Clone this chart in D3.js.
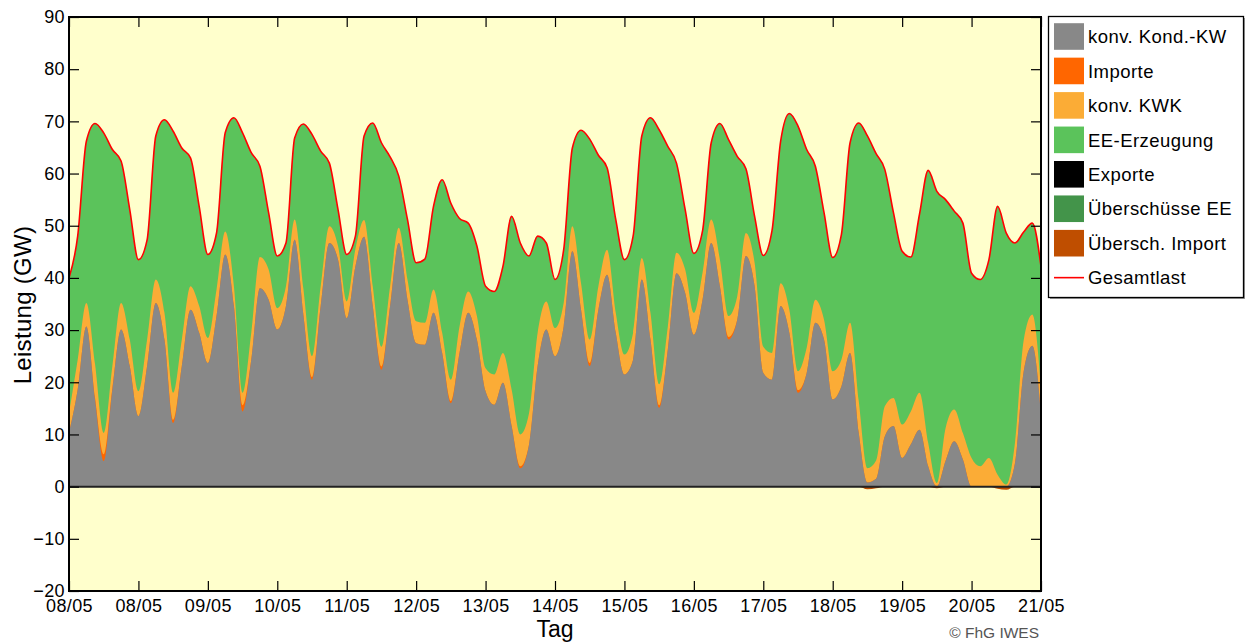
<!DOCTYPE html>
<html>
<head>
<meta charset="utf-8">
<script src="https://cdn.jsdelivr.net/npm/d3@7"></script>
<style>
  body { margin: 0; background: #fff; }
  svg { font-family: "Liberation Sans", Arial, sans-serif; }
</style>
</head>
<body>
<div id="chart"></div>
<script>

// 3-hour steps, 14 days (k = 0..112)
var stepHours = 3;

var dayLabels = ["08/05", "08/05", "09/05", "10/05", "11/05", "12/05", "13/05", "14/05",
                 "15/05", "16/05", "17/05", "18/05", "19/05", "20/05", "21/05"];

var yTicks = [-20, -10, 0, 10, 20, 30, 40, 50, 60, 70, 80, 90];

// Gesamtlast (GW)
var load = [
    40.0, 48.0, 66.2, 69.6, 67.8, 64.6, 62.4, 53.1,
    43.5, 47.3, 67.2, 70.3, 68.1, 64.9, 63.0, 53.7,
    44.5, 48.6, 67.8, 70.7, 67.8, 64.0, 61.4, 52.5,
    44.2, 46.7, 66.8, 69.5, 67.5, 64.3, 62.0, 53.1,
    44.5, 48.0, 67.2, 69.7, 65.9, 63.2, 59.5, 51.2,
    42.9, 43.6, 53.7, 58.8, 54.3, 51.4, 50.5, 46.1,
    38.4, 37.4, 42.2, 51.8, 46.7, 44.2, 48.0, 46.7,
    39.7, 45.4, 64.9, 68.3, 66.6, 63.5, 61.1, 51.2,
    43.5, 48.0, 67.2, 70.7, 68.4, 65.2, 62.0, 53.1,
    44.7, 49.0, 65.9, 69.6, 66.5, 63.3, 60.9, 51.8,
    44.3, 49.0, 66.2, 71.5, 69.1, 64.6, 61.4, 52.5,
    43.9, 48.3, 65.9, 69.7, 67.2, 63.8, 60.8, 52.5,
    45.1, 44.0, 52.2, 60.6, 56.6, 55.0, 52.8, 50.5,
    40.9, 39.7, 43.5, 53.7, 48.6, 46.7, 48.8, 50.5,
    42.2
];

// konv. Kond.-KW
var kond = [
    10.3, 18.6, 30.7, 16.7, 4.9, 18.6, 30.1, 23.1,
    13.5, 23.1, 35.2, 28.2, 12.2, 23.1, 33.9, 29.5,
    23.7, 32.7, 44.5, 34.6, 14.4, 24.3, 38.0, 35.8,
    30.1, 34.6, 47.3, 33.0, 20.5, 34.6, 46.7, 43.5,
    32.3, 42.2, 47.9, 34.6, 22.4, 34.6, 46.7, 35.8,
    27.5, 27.2, 33.3, 25.6, 16.0, 25.6, 33.3, 28.2,
    18.3, 15.7, 19.9, 11.6, 3.5, 8.0, 23.1, 30.1,
    25.0, 30.7, 45.1, 33.9, 23.1, 33.9, 40.6, 29.5,
    21.5, 24.3, 39.7, 28.2, 15.1, 26.3, 40.9, 37.1,
    29.1, 35.8, 46.7, 38.4, 28.2, 32.0, 44.2, 38.4,
    21.8, 20.5, 34.6, 29.5, 18.0, 21.8, 31.4, 28.2,
    16.7, 19.2, 25.6, 10.3, 0.8, 1.5, 9.6, 11.6,
    5.5, 8.1, 10.9, 3.9, 0.0, 4.9, 8.7, 5.2,
    0.0, 0.0, 0.0, 0.0, 0.0, 4.5, 22.0, 27.0,
    14.0
];

// Importe
var importe = [
    0, 0, 0, 0.3, 1.3, 0.3, 0, 0,
    0, 0, 0, 0, 0.6, 0, 0, 0,
    0, 0, 0, 0, 1.2, 0, 0, 0,
    0, 0, 0, 0, 0.5, 0, 0, 0,
    0, 0, 0, 0, 0.6, 0, 0, 0,
    0, 0, 0, 0, 0.4, 0, 0, 0,
    0, 0, 0, 0, 0.4, 0, 0, 0,
    0, 0, 0, 0, 0.6, 0, 0, 0,
    0, 0, 0, 0, 0.5, 0, 0, 0,
    0, 0, 0, 0, 0.5, 0, 0, 0,
    0, 0, 0, 0, 0.5, 0, 0, 0,
    0, 0, 0, 0, 0, 0, 0, 0,
    0, 0, 0, 0, 0, 0, 0, 0,
    0, 0, 0, 0, 0, 0, 0, 0,
    0
];

// konv. KWK
var kwk = [
    3.8, 5.7, 4.5, 6.5, 4.1, 4.2, 5.1, 5.1,
    4.8, 5.1, 4.5, 5.1, 5.2, 5.1, 4.5, 5.1,
    4.8, 5.1, 4.4, 3.8, 2.4, 5.2, 6.0, 5.8,
    4.1, 3.8, 3.9, 5.0, 4.0, 3.8, 3.2, 2.6,
    3.2, 3.3, 3.2, 3.8, 3.8, 3.8, 2.9, 3.9,
    4.2, 4.2, 4.5, 3.9, 4.1, 5.1, 4.1, 4.5,
    4.4, 5.8, 5.7, 7.0, 6.1, 6.0, 6.4, 5.4,
    5.4, 4.5, 4.8, 5.1, 4.5, 4.5, 4.8, 3.8,
    3.8, 5.2, 4.1, 5.1, 4.0, 4.4, 3.9, 4.5,
    4.2, 5.2, 4.5, 5.1, 4.0, 4.5, 4.4, 4.5,
    5.0, 5.1, 4.4, 4.4, 3.6, 4.8, 4.4, 3.8,
    5.4, 5.1, 5.8, 6.1, 2.7, 3.5, 5.8, 5.4,
    6.4, 6.3, 7.1, 4.5, 0.7, 6.3, 6.1, 5.1,
    5.5, 3.9, 5.5, 2.3, 0.4, 3.9, 6.0, 6.0,
    5.0
];

// EE-Erzeugung
var ee = [
    25.9, 23.7, 31.0, 46.1, 57.5, 41.5, 27.2, 24.9,
    25.2, 19.1, 27.5, 37.0, 50.1, 36.7, 24.6, 19.1,
    16.0, 10.8, 18.9, 32.3, 49.8, 34.5, 17.4, 10.9,
    10.0, 8.3, 15.6, 31.5, 42.5, 25.9, 12.1, 7.0,
    9.0, 2.5, 16.1, 31.3, 39.1, 24.8, 9.9, 11.5,
    11.2, 12.2, 15.9, 29.3, 33.8, 20.7, 13.1, 13.4,
    15.7, 15.9, 16.6, 33.2, 36.7, 30.2, 18.5, 11.2,
    9.3, 10.2, 15.0, 29.3, 38.4, 25.1, 15.7, 17.9,
    18.2, 18.5, 23.4, 37.4, 48.8, 34.5, 17.2, 11.5,
    11.4, 8.0, 14.7, 26.1, 33.8, 26.8, 12.3, 8.9,
    17.5, 23.4, 27.2, 37.6, 47.0, 38.0, 25.6, 20.5,
    21.8, 24.0, 34.5, 53.3, 63.7, 58.8, 45.4, 35.5,
    33.2, 29.6, 34.2, 52.2, 55.9, 43.8, 38.0, 40.2,
    35.4, 35.8, 38.0, 51.4, 48.2, 38.3, 20.8, 17.5,
    23.2
];

// Übersch. Import (below zero)
var uebImport = [
    0, 0, 0, 0, 0, 0, 0, 0,
    0, 0, 0, 0, 0, 0, 0, 0,
    0, 0, 0, 0, 0, 0, 0, 0,
    0, 0, 0, 0, 0, 0, 0, 0,
    0, 0, 0, 0, 0, 0, 0, 0,
    0, 0, 0, 0, 0, 0, 0, 0,
    0, 0, 0, 0, 0, 0, 0, 0,
    0, 0, 0, 0, 0, 0, 0, 0,
    0, 0, 0, 0, 0, 0, 0, 0,
    0, 0, 0, 0, 0, 0, 0, 0,
    0, 0, 0, 0, 0, 0, 0, 0,
    0, 0, 0, 0, -0.5, -0.3, 0, 0,
    0, 0, 0, 0, -0.3, 0, 0, 0,
    0, 0, 0, -0.4, -0.6, 0, 0, 0,
    0
];

var legendItems = [
    {name: "konv. Kond.-KW", color: "#888888"},
    {name: "Importe", color: "#FF6600"},
    {name: "konv. KWK", color: "#FBAC36"},
    {name: "EE-Erzeugung", color: "#5BC35B"},
    {name: "Exporte", color: "#000000"},
    {name: "Überschüsse EE", color: "#43944A"},
    {name: "Übersch. Import", color: "#BF4E00"},
    {name: "Gesamtlast", color: "#FF0000", line: true}
];

var width = 1248, height = 644;
var margin = {left: 69, right: 207, top: 17, bottom: 53};
var plotW = width - margin.left - margin.right,
    plotH = height - margin.top - margin.bottom;

var svg = d3.select("#chart").append("svg")
    .attr("width", width)
    .attr("height", height);

var x = d3.scaleLinear()
    .domain([0, 14])
    .range([0, plotW]);

var y = d3.scaleLinear()
    .domain([-20, 90])
    .range([plotH, 0]);

var rows = load.map(function(d, i) {
    return {
        t: i * stepHours / 24,
        kond: kond[i],
        importe: importe[i],
        kwk: kwk[i],
        ee: ee[i],
        uebImport: uebImport[i]
    };
});

var keys = ["kond", "importe", "kwk", "ee"];
var colors = {kond: "#888888", importe: "#FF6600", kwk: "#FBAC36", ee: "#5BC35B", uebImport: "#BF4E00"};

var series = d3.stack().keys(keys)(rows);

var g = svg.append("g")
    .attr("transform", "translate(" + margin.left + "," + margin.top + ")");

g.append("defs").append("clipPath")
    .attr("id", "clip")
    .append("rect")
    .attr("width", plotW)
    .attr("height", plotH);

// plot background
g.append("rect")
    .attr("width", plotW)
    .attr("height", plotH)
    .attr("fill", "#FFFFCC");

// each layer is filled from zero up to its cumulative top, top layer first,
// so the layers overlap instead of leaving seams
var area = d3.area()
    .curve(d3.curveMonotoneX)
    .x(function(d) { return x(d.data.t); })
    .y0(y(0))
    .y1(function(d) { return y(d[1]); });

var plot = g.append("g").attr("clip-path", "url(#clip)");

plot.selectAll(".layer")
    .data(series.slice().reverse())
    .enter().append("path")
    .attr("class", "layer")
    .attr("fill", function(d) { return colors[d.key]; })
    .attr("d", area);

var negArea = d3.area()
    .curve(d3.curveMonotoneX)
    .x(function(d) { return x(d.t); })
    .y0(y(0))
    .y1(function(d) { return y(d.uebImport); });

plot.append("path")
    .datum(rows)
    .attr("fill", colors.uebImport)
    .attr("d", negArea);

// zero line
plot.append("line")
    .attr("x1", 0).attr("x2", plotW)
    .attr("y1", y(0)).attr("y2", y(0))
    .attr("stroke", "#222")
    .attr("stroke-width", 2);

var line = d3.line()
    .curve(d3.curveMonotoneX)
    .x(function(d, i) { return x(i * stepHours / 24); })
    .y(function(d) { return y(d); });

plot.append("path")
    .datum(load)
    .attr("fill", "none")
    .attr("stroke", "#FF0000")
    .attr("stroke-width", 1.6)
    .attr("d", line);

// axes, ticks pointing inward
var xTickVals = d3.range(0, 15);

var yAxisL = d3.axisLeft(y).tickValues(yTicks).tickSize(-10).tickPadding(4);
var yAxisR = d3.axisRight(y).tickValues(yTicks).tickSize(-10).tickFormat("");
var xAxisB = d3.axisBottom(x).tickValues(xTickVals).tickSize(-10).tickPadding(8)
    .tickFormat(function(d) { return dayLabels[d]; });
var xAxisT = d3.axisTop(x).tickValues(xTickVals).tickSize(-10).tickFormat("");

function styleAxis(sel) {
    sel.select(".domain").remove();
    sel.selectAll(".tick line").attr("stroke", "#000").attr("stroke-width", 1.2);
    sel.selectAll(".tick text").attr("fill", "#000")
        .style("font-size", "18px")
        .style("letter-spacing", "0.4px")
        .style("font-family", "'Liberation Sans', Arial, sans-serif");
}

g.append("g").call(yAxisL).call(styleAxis);
g.append("g").attr("transform", "translate(" + plotW + ",0)").call(yAxisR).call(styleAxis);
g.append("g").attr("transform", "translate(0," + plotH + ")").call(xAxisB).call(styleAxis);
g.append("g").call(xAxisT).call(styleAxis);

// plot frame
g.append("rect")
    .attr("width", plotW)
    .attr("height", plotH)
    .attr("fill", "none")
    .attr("stroke", "#000")
    .attr("stroke-width", 2);

// axis titles
svg.append("text")
    .attr("transform", "translate(31,305) rotate(-90)")
    .attr("text-anchor", "middle")
    .style("font-size", "24px")
    .style("letter-spacing", "0.3px")
    .text("Leistung (GW)");

svg.append("text")
    .attr("x", margin.left + plotW / 2)
    .attr("y", 637)
    .attr("text-anchor", "middle")
    .style("font-size", "23px")
    .text("Tag");

svg.append("text")
    .attr("x", 1039)
    .attr("y", 638)
    .attr("text-anchor", "end")
    .attr("fill", "#555")
    .style("font-size", "15.5px")
    .text("© FhG IWES");

// legend
var legend = svg.append("g").attr("transform", "translate(1048.5,16.5)");

legend.append("rect")
    .attr("x", 1.5).attr("y", 1.5)
    .attr("width", 195).attr("height", 281)
    .attr("fill", "#999");

legend.append("rect")
    .attr("width", 195).attr("height", 281)
    .attr("fill", "#fff")
    .attr("stroke", "#000")
    .attr("stroke-width", 1.3);

var item = legend.selectAll(".item")
    .data(legendItems)
    .enter().append("g")
    .attr("class", "item")
    .attr("transform", function(d, i) { return "translate(0," + (20 + i * 34.45) + ")"; });

item.filter(function(d) { return !d.line; })
    .append("rect")
    .attr("x", 5.5).attr("y", -13.3)
    .attr("width", 30).attr("height", 26.6)
    .attr("fill", function(d) { return d.color; });

item.filter(function(d) { return d.line; })
    .append("line")
    .attr("x1", 5.5).attr("x2", 35.5)
    .attr("y1", 0).attr("y2", 0)
    .attr("stroke", function(d) { return d.color; })
    .attr("stroke-width", 1.6);

item.append("text")
    .attr("x", 39.5)
    .attr("dy", "0.36em")
    .style("font-size", "18.5px")
    .style("letter-spacing", "0.45px")
    .text(function(d) { return d.name; });

</script>
</body>
</html>
